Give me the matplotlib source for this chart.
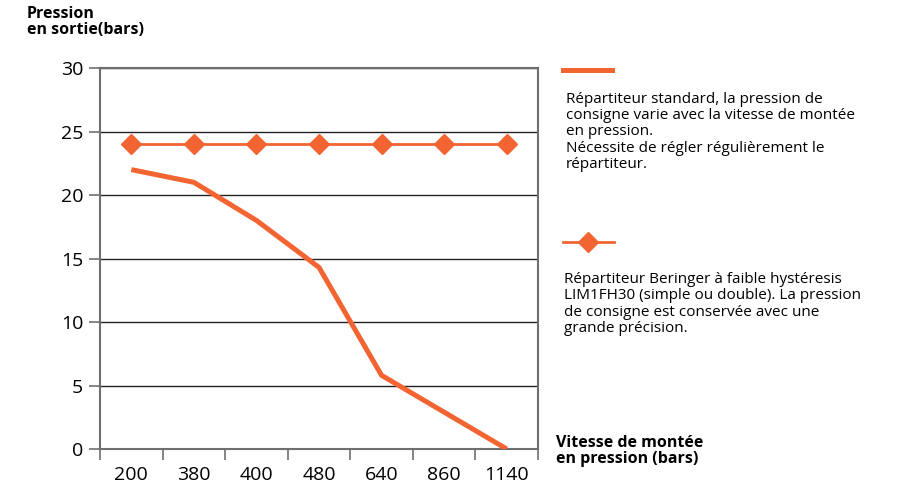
import numpy as np
import matplotlib.pyplot as plt
from matplotlib.lines import Line2D

plt.rcParams["font.family"] = ["Open Sans", "DejaVu Sans"]

vitesse = ["200", "380", "400", "480", "640", "860", "1140"]
standard = [22, 21, 18, 14.3, 5.8, 2.9, 0]
beringer = [24, 24, 24, 24, 24, 24, 24]

texte_standard = ("Répartiteur standard, la pression de\n"
                  "consigne varie avec la vitesse de montée\n"
                  "en pression.\n"
                  "Nécessite de régler régulièrement le\n"
                  "répartiteur.")
texte_beringer = ("Répartiteur Beringer à faible hystéresis\n"
                  "LIM1FH30 (simple ou double). La pression\n"
                  "de consigne est conservée avec une\n"
                  "grande précision.")

orange = "#F26532"
gris = "#6f6f6f"

fig = plt.figure(figsize=(9.22, 4.98), dpi=100)
ax = fig.add_axes([0.1085, 0.0984, 0.475, 0.765])

x = np.arange(len(vitesse))
ax.plot(x, standard, color=orange, lw=3.6, solid_capstyle="butt", zorder=3)
ax.plot(x, beringer, color=orange, lw=2, marker="D", markersize=10.5, zorder=3)

ax.set_xlim(-0.5, len(vitesse) - 0.5)
ax.set_ylim(0, 30)
ax.set_yticks(np.arange(0, 31, 5))
ax.yaxis.grid(True, color="#222222", lw=1)
ax.set_axisbelow(True)

ax.set_xticks(x)
ax.set_xticklabels(vitesse)
ax.set_xticks(np.arange(-0.5, len(vitesse)), minor=True)
ax.tick_params(axis="x", which="major", length=0, pad=12, labelsize=14)
ax.tick_params(axis="x", which="minor", length=8, width=1.2, color=gris)
ax.tick_params(axis="y", length=8, width=1.2, color=gris, pad=4, labelsize=14)

for s in ax.spines.values():
    s.set_color(gris)
    s.set_linewidth(1.5)

fig.text(0.029, 0.987, "Pression\nen sortie(bars)", fontsize=11.5, fontweight="bold",
         va="top", ha="left", linespacing=1.0)
fig.text(0.603, 0.127, "Vitesse de montée\nen pression (bars)", fontsize=11.5,
         fontweight="bold", va="top", ha="left", linespacing=1.0)

fig.add_artist(Line2D([0.611, 0.664], [0.859, 0.859], color=orange, lw=3.6,
                      transform=fig.transFigure))
fig.add_artist(Line2D([0.611, 0.666], [0.514, 0.514], color=orange, lw=2,
                      transform=fig.transFigure))
fig.add_artist(Line2D([0.638], [0.514], color=orange, marker="D", markersize=10.5,
                      lw=0, transform=fig.transFigure))

fig.text(0.614, 0.816, texte_standard, fontsize=11, va="top", ha="left", linespacing=1.13)
fig.text(0.612, 0.454, texte_beringer, fontsize=11, va="top", ha="left", linespacing=1.13)

fig.savefig("out.png", dpi=100)
